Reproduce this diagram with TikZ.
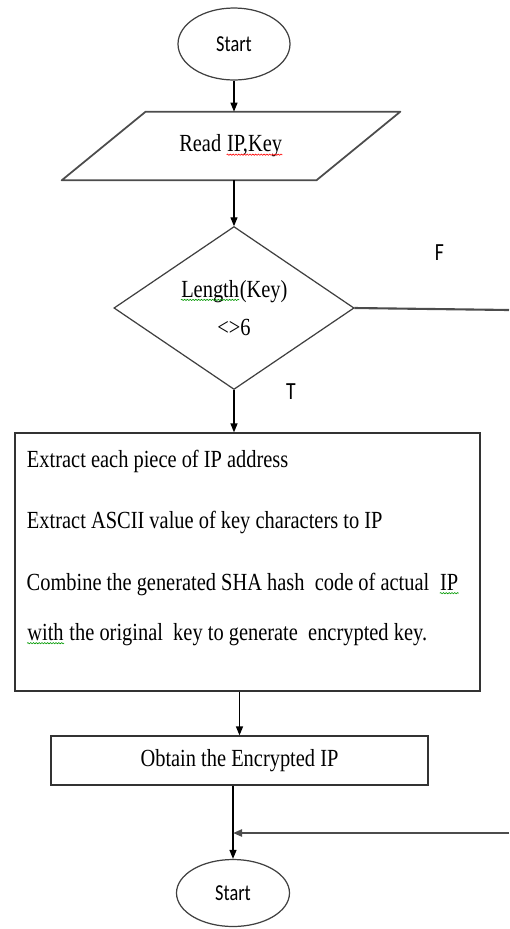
\documentclass[tikz,border=0pt]{standalone}
\usepackage{fontspec}
\setmainfont{Liberation Serif}[FakeStretch=0.83]
\newfontfamily\labelfont{Carlito}[FakeStretch=0.8]
\usetikzlibrary{shapes.geometric,arrows.meta,decorations.pathmorphing}

% spell-check style wavy underlines
\newcommand\squig[2]{\tikz[baseline=(w.base)]{\node[rectangle, inner sep=0pt, minimum width=0pt, minimum height=0pt, anchor=base, draw=none] (w) {#2};
  \draw[#1, line width=0.35pt, decorate, decoration={snake, amplitude=0.35pt, segment length=1.6pt}]
    ([yshift=-1.6pt]w.base west) -- ([yshift=-1.6pt]w.base east);}}

\begin{document}
\begin{tikzpicture}[auto, node distance=2cm, line width=0.7pt,
  >={Triangle[length=1.8mm,width=1.4mm]}]

% Styles
\tikzstyle{term}    = [draw=black!75, ellipse, minimum width=2.24cm, minimum height=1.44cm, font=\labelfont\fontsize{13}{15}\selectfont]
\tikzstyle{io}      = [rectangle, minimum width=5.08cm, minimum height=1.36cm, font=\fontsize{14}{17}\selectfont]
\tikzstyle{slanted} = [draw=black!70, line width=1pt, line join=round]
\tikzstyle{decision}= [draw=black!75, diamond, minimum width=4.8cm, minimum height=3.2cm, inner sep=0pt, align=center, font=\fontsize{14}{17}\selectfont]
\tikzstyle{block}   = [draw=black!80, rectangle, font=\fontsize{14}{17}\selectfont]
\tikzstyle{line}    = [anchor=base west, inner sep=0pt, font=\fontsize{14}{17}\selectfont]
\tikzstyle{tag}     = [inner sep=0pt, font=\labelfont\fontsize{14}{17}\selectfont]
\tikzstyle{wire}    = [line width=1.2pt, black!70]

\useasboundingbox (0,0) rectangle (10.18,-18.58);

% Nodes
\node [term] (start) at (4.68,-0.88) {Start};
\node [io, below of=start, node distance=2.04cm, xshift=-0.06cm] (read) {Read \squig{red}{IP,Key}};
\node [decision, below of=read, node distance=3.24cm, xshift=0.06cm] (dec) {\squig{green!60!black}{Length}(Key)\\[5pt]<>6};
\node [block, below of=dec, node distance=5.08cm, xshift=0.27cm, minimum width=9.3cm, minimum height=5.16cm] (proc) {};
\node [block, below of=proc, node distance=3.97cm, xshift=-0.16cm, minimum width=7.54cm, minimum height=0.98cm] (obtain) {Obtain the Encrypted IP};
\node [term, below of=obtain, node distance=2.65cm, xshift=-0.13cm, minimum width=2.26cm, minimum height=1.34cm] (stop) {Start};

% Input parallelogram round the read node
\draw [slanted] ([xshift=-0.84cm]read.south west) -- ([xshift=-0.84cm]read.south east)
  -- ([xshift=0.84cm]read.north east) -- ([xshift=0.84cm]read.north west) -- cycle;

% Text of the process box
\foreach \dy/\txt [count=\i] in {0.70/Extract each piece of IP address,
    1.92/Extract ASCII value of key characters to IP,
    3.16/Combine the generated SHA hash\ \ code of actual\ \ \squig{green!60!black}{IP},
    4.16/\squig{green!60!black}{with} the original\ \ key to generate\ \ encrypted key.}
  \node [line] (step\i) at ([xshift=0.24cm, yshift=-\dy cm]proc.north west) {\txt};

% Branch labels
\node [tag] (f) at ([xshift=1.7cm, yshift=1.1cm]dec.east) {F};
\node [tag] (t) at ([xshift=1.14cm, yshift=-0.04cm]dec.south) {T};

% Free ends at the right border
\coordinate (fout) at (10.18,-6.2);
\coordinate (back) at (10.18,-16.66);
\coordinate (merge) at (stop |- back);

% Connections
\draw [->] (start) -- (start |- read.north);
\draw [->] (start |- read.south) -- (dec);
\draw [->] (dec) -- (dec |- proc.north);
\draw [->] (obtain |- proc.south) -- (obtain);
\draw [->] (obtain.south -| stop) -- (stop);
\draw [wire] (dec.east) -- (fout);
\draw [wire, ->] (back) -- (merge);

\end{tikzpicture}
\end{document}
